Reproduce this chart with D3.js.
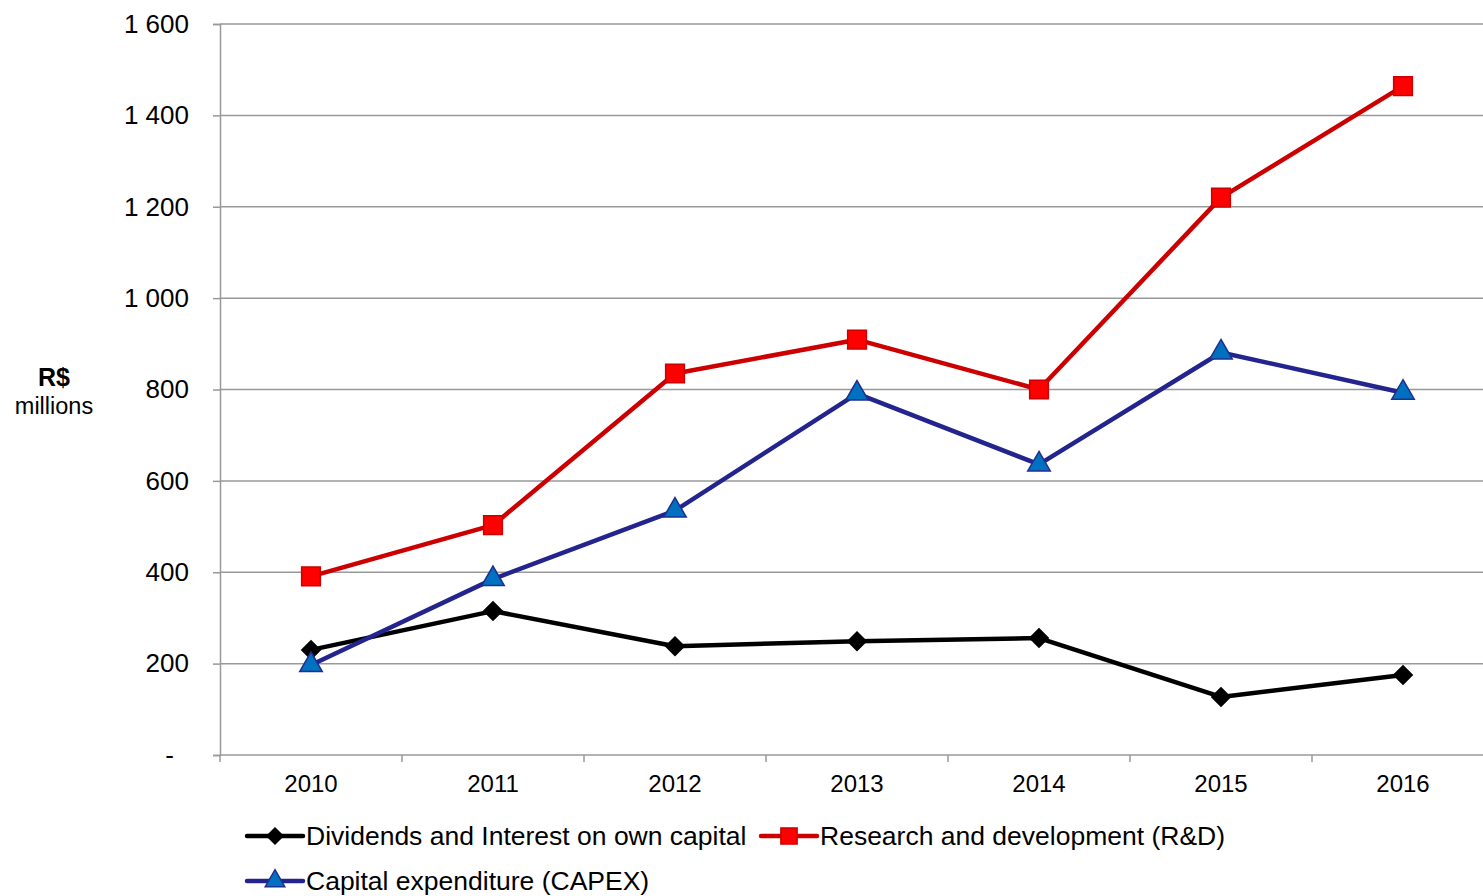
<!DOCTYPE html>
<html>
<head>
<meta charset="utf-8">
<script src="https://cdn.jsdelivr.net/npm/d3@7/dist/d3.min.js"></script>
<style>
  html, body { margin: 0; padding: 0; background: #fff; }
  svg { display: block; font-family: "Liberation Sans", Arial, sans-serif; }
</style>
</head>
<body>
<svg id="chart" width="1483" height="896"></svg>
<script>
// Years on the category axis
const years = ["2010", "2011", "2012", "2013", "2014", "2015", "2016"];
// R$ millions per year
const dividends = [230, 315, 238, 249, 256, 127, 175];
const research = [391, 503, 835, 909, 800, 1220, 1464];
const capex = [197, 385, 535, 791, 636, 881, 793];
// Value axis ticks
const yTicks = [0, 200, 400, 600, 800, 1000, 1200, 1400, 1600];

// A square turned 45 degrees, as used by spreadsheet line charts
const wideDiamond = {
  draw(ctx, size) {
    const r = Math.sqrt(size / 2);
    ctx.moveTo(0, -r);
    ctx.lineTo(r, 0);
    ctx.lineTo(0, r);
    ctx.lineTo(-r, 0);
    ctx.closePath();
  }
};

const series = [
  { name: "Dividends and Interest on own capital", values: dividends, line: "#000000", fill: "#000000", stroke: "#000000", symbol: wideDiamond, size: 170 },
  { name: "Research and development (R&D)", values: research, line: "#CC0000", fill: "#FF0000", stroke: "#CC0000", symbol: d3.symbolSquare, size: 350 },
  { name: "Capital expenditure (CAPEX)", values: capex, line: "#24248F", fill: "#0070C0", stroke: "#1F2F8F", symbol: d3.symbolTriangle, size: 220 }
];

const svg = d3.select("#chart");
const x = d3.scaleBand().domain(years).range([220, 1494]);
const y = d3.scaleLinear().domain([0, 1600]).range([755, 24]);

const fmt = v => v === 0 ? "-" : d3.format(",")(v).replace(/,/g, " ");

// Horizontal gridlines
svg.append("g").selectAll("line").data(yTicks.filter(t => t > 0)).join("line")
  .attr("x1", 220).attr("x2", 1483)
  .attr("y1", d => y(d)).attr("y2", d => y(d))
  .attr("stroke", "#999").attr("stroke-width", 1.5);

// Value axis
const yAxis = svg.append("g").attr("transform", "translate(220,0)")
  .call(d3.axisLeft(y).tickValues(yTicks).tickFormat(fmt).tickSize(7).tickPadding(24));
yAxis.select(".domain").attr("stroke", "#999").attr("stroke-width", 1.5);
yAxis.selectAll(".tick line").attr("stroke", "#999").attr("stroke-width", 1.5);
yAxis.selectAll(".tick text").attr("font-size", 26).attr("fill", "#000")
  .attr("font-family", "Liberation Sans, Arial, sans-serif")
  .attr("dx", d => d === 0 ? -15 : 0);

// Category axis with ticks between categories
const xAxisG = svg.append("g").attr("transform", "translate(0,755)");
xAxisG.append("line").attr("x1", 220).attr("x2", 1483).attr("y1", 0).attr("y2", 0)
  .attr("stroke", "#999").attr("stroke-width", 1.5);
xAxisG.selectAll("line.tk").data(years).join("line").attr("class", "tk")
  .attr("x1", d => x(d)).attr("x2", d => x(d)).attr("y1", 0).attr("y2", 7)
  .attr("stroke", "#999").attr("stroke-width", 1.5);
xAxisG.selectAll("text").data(years).join("text")
  .attr("x", d => x(d) + x.bandwidth() / 2).attr("y", 37)
  .attr("text-anchor", "middle").attr("font-size", 24).attr("fill", "#000")
  .text(d => d);

// Axis title
svg.append("text").attr("x", 54).attr("y", 386).attr("text-anchor", "middle")
  .attr("font-size", 25).attr("font-weight", "bold").text("R$");
svg.append("text").attr("x", 54).attr("y", 414).attr("text-anchor", "middle")
  .attr("font-size", 23.5).text("millions");

const cx = i => x(years[i]) + x.bandwidth() / 2;
const line = d3.line().x((d, i) => cx(i)).y(d => y(d));

// Series lines and markers
series.forEach(s => {
  svg.append("path").datum(s.values).attr("d", line)
    .attr("fill", "none").attr("stroke", s.line).attr("stroke-width", 4.5)
    .attr("stroke-linejoin", "round");
});
series.forEach(s => {
  svg.append("g").selectAll("path").data(s.values).join("path")
    .attr("transform", (d, i) => `translate(${cx(i)},${y(d)})`)
    .attr("d", d3.symbol().type(s.symbol).size(s.size))
    .attr("fill", s.fill).attr("stroke", s.stroke).attr("stroke-width", 1.5);
});

// Legend
const legendPos = [
  { x: 247, y: 836 },
  { x: 761, y: 836 },
  { x: 247, y: 881 }
];
series.forEach((s, i) => {
  const p = legendPos[i];
  const g = svg.append("g").attr("transform", `translate(${p.x},${p.y})`);
  g.append("line").attr("x1", 0).attr("x2", 56).attr("y1", 0).attr("y2", 0)
    .attr("stroke", s.line).attr("stroke-width", 4.5).attr("stroke-linecap", "round");
  g.append("path").attr("transform", "translate(28,0)")
    .attr("d", d3.symbol().type(s.symbol).size(s.size * 0.75))
    .attr("fill", s.fill).attr("stroke", s.stroke).attr("stroke-width", 1.5);
  g.append("text").attr("x", 59).attr("y", 9).attr("font-size", 26.5).attr("fill", "#000")
    .text(s.name);
});
</script>
</body>
</html>
